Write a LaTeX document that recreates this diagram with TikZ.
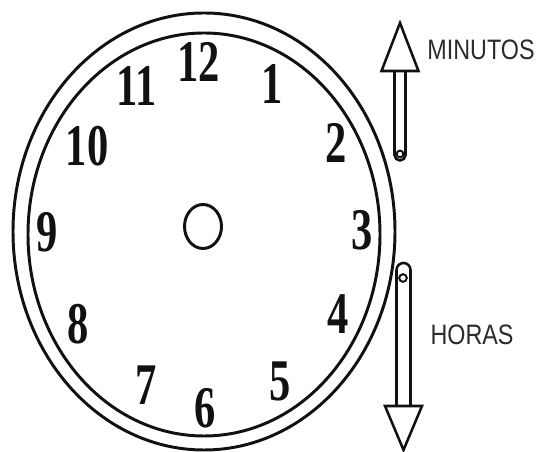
\documentclass[tikz,border=0pt]{standalone}
\usepackage{fontspec}
\newfontfamily\dialfont[FakeStretch=0.72]{Liberation Serif}
\newfontfamily\labelfont[FakeStretch=0.83]{Liberation Sans}
\definecolor{Ink}{HTML}{111111}
\definecolor{LabelInk}{HTML}{2B2B2B}

\begin{document}
\begin{tikzpicture}[x=1cm,y=1cm,
  rim/.style={draw=Ink,line width=2.1pt},
  digit/.style={inner sep=0pt,text=Ink,font=\dialfont\bfseries\fontsize{42}{42}\selectfont},
  hand/.style={draw=Ink,line width=1.8pt,line join=miter,fill=white},
  pin/.style={draw=Ink,line width=1.4pt},
  handlabel/.style={inner sep=0pt,text=LabelInk,font=\labelfont\fontsize{20}{24}\selectfont}]
\useasboundingbox (0,0) rectangle (13.425,11.300);
% dial
\draw[rim] (5.100,5.5125) ellipse [x radius=4.775,y radius=5.4625];
\draw[rim] (5.100,5.4375) ellipse [x radius=4.400,y radius=5.0375];
\draw[rim] (5.075,5.6375) ellipse [x radius=0.4625,y radius=0.550];
% numbers
\node[digit] (h12) at (4.963,9.750) {12};
\node[digit] (h1) at (6.813,9.200) {1};
\node[digit] (h2) at (8.400,7.725) {2};
\node[digit] (h3) at (9.050,5.550) {3};
\node[digit] (h4) at (8.450,3.450) {4};
\node[digit] (h5) at (7.000,1.775) {5};
\node[digit] (h6) at (5.125,1.100) {6};
\node[digit] (h7) at (3.650,1.675) {7};
\node[digit] (h8) at (1.950,3.200) {8};
\node[digit] (h9) at (1.175,5.500) {9};
\node[digit] (h10) at (2.175,7.650) {10};
\node[digit] (h11) at (3.425,9.150) {11};
% minute hand
\draw[hand] (9.8625,9.525) -- (9.8625,7.425) arc[start angle=180,end angle=360,radius=0.1375] -- (10.1375,9.525);
\draw[hand] (10.000,10.725) -- (10.4625,9.525) -- (9.5375,9.525) -- cycle;
\draw[pin] (10.000,7.450) circle (0.085);
\node[handlabel] (minutos) at (12.025,10.050) {MINUTOS};
% hour hand
\draw[hand] (9.9125,1.150) -- (9.9125,4.550) arc[start angle=180,end angle=0,radius=0.175] -- (10.2625,1.150);
\draw[hand] (10.0875,0.050) -- (10.550,1.150) -- (9.625,1.150) -- cycle;
\draw[pin] (10.075,4.350) circle (0.095);
\node[handlabel] (horas) at (11.800,2.925) {HORAS};
\end{tikzpicture}
\end{document}
